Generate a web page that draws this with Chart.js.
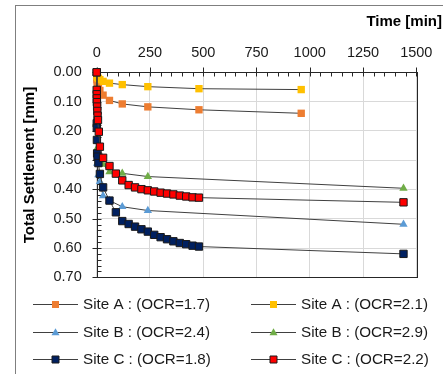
<!DOCTYPE html>
<html>
<head>
<meta charset="utf-8">
<script src="https://cdn.jsdelivr.net/npm/chart.js@4"></script>
<style>
  html, body { margin: 0; padding: 0; background: #fff; }
  #wrap { width: 443px; height: 374px; }
</style>
</head>
<body>
<div id="wrap"><canvas id="graph" width="443" height="374"></canvas></div>
<script>
// time [min] of each reading, per series
const timeA = [0, 0.25, 0.5, 1, 2, 4, 8, 15, 30, 60, 120, 240, 480, 960]
const timeB = [0, 2, 8, 15, 30, 60, 120, 240, 1440]
const timeC18 = [0, 0.25, 0.5, 1, 2, 4, 8, 15, 30, 60, 90, 120, 150, 180, 210, 240, 270, 300, 330, 360, 390, 420, 450, 480, 1440]
const timeC22 = [0, 0.1, 0.25, 0.5, 1, 2, 3, 4, 6, 10, 15, 30, 60, 90, 120, 150, 180, 210, 240, 270, 300, 330, 360, 390, 420, 450, 480, 1440]

// total settlement [mm]
const siteA17 = [0, 0.012, 0.018, 0.025, 0.032, 0.040, 0.050, 0.062, 0.078, 0.096, 0.108, 0.118, 0.128, 0.140]
const siteA21 = [0, 0.005, 0.008, 0.011, 0.014, 0.017, 0.021, 0.025, 0.031, 0.037, 0.042, 0.049, 0.056, 0.059]
const siteB24 = [0, 0.311, 0.350, 0.373, 0.422, 0.438, 0.459, 0.472, 0.519]
const siteB29 = [0, 0.260, 0.290, 0.305, 0.314, 0.340, 0.345, 0.356, 0.396]
const siteC18 = [0, 0.174, 0.190, 0.231, 0.277, 0.288, 0.310, 0.347, 0.393, 0.438, 0.478, 0.508, 0.518, 0.527, 0.536, 0.544, 0.555, 0.563, 0.570, 0.577, 0.583, 0.587, 0.592, 0.595, 0.620]
const siteC22 = [0, 0.060, 0.075, 0.089, 0.102, 0.117, 0.132, 0.148, 0.163, 0.203, 0.254, 0.292, 0.320, 0.346, 0.369, 0.385, 0.393, 0.399, 0.403, 0.407, 0.411, 0.414, 0.417, 0.421, 0.424, 0.427, 0.428, 0.444]

const labels = ['Site A : (OCR=1.7)', 'Site A : (OCR=2.1)', 'Site B : (OCR=2.4)', 'Site B : (OCR=2.9)', 'Site C : (OCR=1.8)', 'Site C : (OCR=2.2)']
const xTicks = [0, 250, 500, 750, 1000, 1250, 1500]
const yTicks = [0, 0.1, 0.2, 0.3, 0.4, 0.5, 0.6, 0.7]

const FONT = "'Liberation Sans', Arial, sans-serif"
const LINE = '#404040'

function pts(t, s) {
  return t.map((v, i) => ({x: v, y: s[i]}))
}

function serie(label, t, s, color, style, border, order) {
  return {
    label: label,
    data: pts(t, s),
    showLine: true,
    borderColor: LINE,
    borderWidth: 1,
    pointStyle: style,
    pointRadius: style == 'triangle' ? 4.8 : 5.2,
    pointHoverRadius: 5.2,
    pointBackgroundColor: color,
    pointBorderColor: '#1a1a1a',
    pointBorderWidth: border ? 1 : 0,
    clip: false,
    order: order
  }
}

const data = {
  datasets: [
    serie(labels[0], timeA, siteA17, '#ed7d31', 'rect', false, 5),
    serie(labels[1], timeA, siteA21, '#ffc000', 'rect', false, 4),
    serie(labels[2], timeB, siteB24, '#5b9bd5', 'triangle', false, 3),
    serie(labels[3], timeB, siteB29, '#70ad47', 'triangle', false, 2),
    serie(labels[4], timeC18, siteC18, '#002060', 'rect', true, 1),
    serie(labels[5], timeC22, siteC22, '#ff0000', 'rect', true, 0)
  ]
}

function marker(ctx, x, y, ds) {
  ctx.save()
  ctx.fillStyle = ds.pointBackgroundColor
  ctx.strokeStyle = ds.pointBorderColor
  ctx.lineWidth = 1
  ctx.beginPath()
  if (ds.pointStyle == 'triangle') {
    ctx.moveTo(x, y - 4.2)
    ctx.lineTo(x + 4, y + 2.8)
    ctx.lineTo(x - 4, y + 2.8)
    ctx.closePath()
  } else {
    ctx.rect(x - 3.5, y - 3.5, 7, 7)
  }
  ctx.fill()
  if (ds.pointBorderWidth > 0) ctx.stroke()
  ctx.restore()
}

const framePlugin = {
  id: 'frame',
  beforeDraw(chart) {
    const ctx = chart.ctx
    ctx.save()
    ctx.fillStyle = '#fff'
    ctx.fillRect(0, 0, chart.width, chart.height)
    ctx.strokeStyle = '#7f7f7f'
    ctx.lineWidth = 1
    ctx.strokeRect(15.5, 5.5, 600, 600)
    ctx.restore()
  },
  beforeDatasetsDraw(chart) {
    const ctx = chart.ctx
    const a = chart.chartArea
    const xs = chart.scales.x, ys = chart.scales.y
    ctx.save()
    ctx.strokeStyle = '#262626'
    ctx.lineWidth = 1
    ctx.strokeRect(Math.round(a.left) + 0.5, Math.round(a.top) + 0.5, Math.round(a.right - a.left), Math.round(a.bottom - a.top))
    ctx.beginPath()
    const top = Math.round(a.top) + 0.5
    for (let v = 0; v <= 1500; v += 50) {
      const px = Math.round(xs.getPixelForValue(v)) + 0.5
      const major = v % 250 == 0
      ctx.moveTo(px, top - (major ? 5 : 0))
      ctx.lineTo(px, top + 4)
    }
    const left = Math.round(a.left) + 0.5
    for (let k = 0; k <= 35; k++) {
      const py = Math.round(ys.getPixelForValue(k * 0.02)) + 0.5
      const major = k % 5 == 0
      ctx.moveTo(left - (major ? 5 : 0), py)
      ctx.lineTo(left + 4, py)
    }
    ctx.stroke()
    ctx.restore()
  },
  afterDraw(chart) {
    const ctx = chart.ctx
    ctx.save()
    ctx.fillStyle = '#000'
    ctx.font = 'bold 15px ' + FONT
    ctx.textAlign = 'right'
    ctx.textBaseline = 'middle'
    ctx.fillText('Time [min]', 442, 22)
    ctx.translate(30, 165)
    ctx.rotate(-Math.PI / 2)
    ctx.textAlign = 'center'
    ctx.fillText('Total Settlement [mm]', 0, 0)
    ctx.restore()

    // legend, two columns
    const colX = [33, 251]
    const rowY = [304, 332, 359]
    ctx.save()
    ctx.font = '15.2px ' + FONT
    ctx.textAlign = 'left'
    ctx.textBaseline = 'middle'
    chart.data.datasets.forEach((ds, i) => {
      const x = colX[i % 2], y = rowY[Math.floor(i / 2)]
      ctx.strokeStyle = LINE
      ctx.lineWidth = 1
      ctx.beginPath()
      ctx.moveTo(x, y + 0.5)
      ctx.lineTo(x + 45, y + 0.5)
      ctx.stroke()
      marker(ctx, x + 22.5, y + 0.5, ds)
      ctx.fillStyle = '#1a1a1a'
      ctx.fillText(ds.label, x + 50, y + 1)
    })
    ctx.restore()
  }
}

const config = {
  type: 'scatter',
  data: data,
  options: {
    responsive: false,
    animation: false,
    events: [],
    layout: { padding: { left: 0, top: 0, right: 26.3, bottom: 96.7 } },
    plugins: {
      legend: { display: false },
      tooltip: { enabled: false }
    },
    scales: {
      x: {
        type: 'linear',
        position: 'top',
        min: 0,
        max: 1500,
        afterBuildTicks: s => { s.ticks = xTicks.map(v => ({value: v})) },
        afterFit: s => { s.height = 72.3 },
        grid: { color: '#d9d9d9', drawTicks: false },
        border: { display: false },
        ticks: { padding: 10.6, color: '#1a1a1a', font: { family: FONT, size: 14.5 }, maxRotation: 0, callback: v => String(v) }
      },
      y: {
        type: 'linear',
        reverse: true,
        min: 0,
        max: 0.7,
        afterBuildTicks: s => { s.ticks = yTicks.map(v => ({value: v})) },
        afterFit: s => { s.width = 96.7 },
        grid: { color: '#d9d9d9', drawTicks: false },
        border: { display: false },
        ticks: { padding: 15, color: '#1a1a1a', font: { family: FONT, size: 14.5 }, callback: v => v.toFixed(2) }
      }
    }
  },
  plugins: [framePlugin]
}

const myChart = new Chart(document.getElementById('graph'), config)
</script>
</body>
</html>
